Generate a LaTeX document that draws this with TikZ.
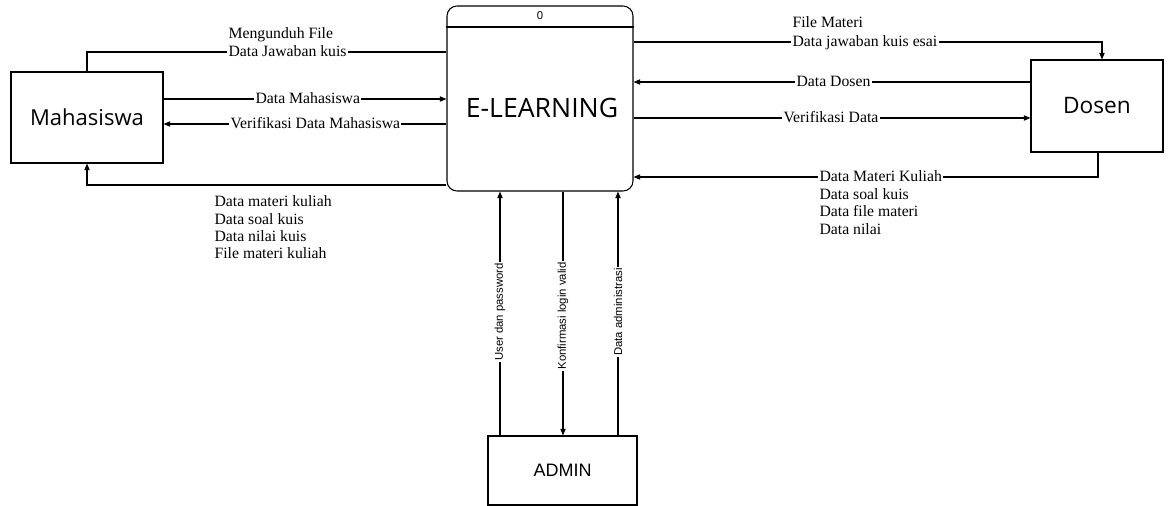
\documentclass[tikz,border=0pt]{standalone}
\usepackage{fontspec}
\setmainfont{Liberation Serif}
\newfontfamily\osans{Open Sans}
\newfontfamily\lsans{Liberation Sans}
\usetikzlibrary{arrows.meta}
\begin{document}
\begin{tikzpicture}[x=0.75pt,y=-0.75pt,
 ent/.style={draw, line width=0.8pt, inner sep=0pt},
 flow/.style={line width=0.8pt, -{Triangle[length=5pt,width=4pt]}},
 plain/.style={line width=0.8pt},
 lbl/.style={font=\fontsize{11.8}{13}\selectfont, inner sep=1pt, anchor=base west},
 onl/.style={lbl, fill=white},
 vlbl/.style={font=\lsans\fontsize{8.5}{10}\selectfont, rotate=90, fill=white, inner sep=1pt}
]
\useasboundingbox (0,0) rectangle (1168,506);

% entities
\node[ent, minimum width=114pt, minimum height=68.25pt, font=\osans\fontsize{16.5}{18}\selectfont] (mhs) at (87,117.5) {Mahasiswa};
\node[ent, rounded corners=7.5pt, minimum width=139.5pt, minimum height=138.75pt] (el) at (540,98.5) {};
\node[font=\osans\fontsize{20}{22}\selectfont, inner sep=0pt] (eltxt) at (542,108) {E-LEARNING};
\node[font=\lsans\fontsize{8.5}{10}\selectfont, inner sep=0pt] (elnum) at (540,16) {0};
\draw[plain] (el.west |- 0,27) -- (el.east |- 0,27);
\node[ent, minimum width=99pt, minimum height=69pt, font=\osans\fontsize{17}{19}\selectfont] (dos) at (1097,106) {Dosen};
\node[ent, minimum width=111.75pt, minimum height=51.75pt, font=\lsans\fontsize{13.5}{15}\selectfont] (adm) at (562.5,470.5) {ADMIN};

% connectors Mahasiswa
\draw[plain] (mhs.north) |- (el.west |- 0,52);
\draw[flow] (mhs.east |- 0,99) -- (el.west |- 0,99);
\draw[flow] (el.west |- 0,124) -- (mhs.east |- 0,124);
\draw[flow] (el.west |- 0,185) -| (mhs.south);

% connectors Dosen
\draw[flow] (el.east |- 0,42) -| (1102,0 |- dos.north);
\draw[flow] (dos.west |- 0,82) -- (el.east |- 0,82);
\draw[flow] (el.east |- 0,118) -- (dos.west |- 0,118);
\draw[flow] (1098,0 |- dos.south) |- (el.east |- 0,177);

% connectors Admin
\draw[flow] (500,0 |- adm.north) -- (500,0 |- el.south);
\draw[flow] (563,0 |- el.south) -- (563,0 |- adm.north);
\draw[flow] (618,0 |- adm.north) -- (618,0 |- el.south);

% labels Mahasiswa side
\node[lbl] (l1a) at (227,38.5) {Mengunduh File};
\node[onl] (l1b) at (227,56.5) {Data Jawaban kuis};
\node[onl] (l2) at (254,103.5) {Data Mahasiswa};
\node[onl] (l3) at (229,128.5) {Verifikasi Data Mahasiswa};
\node[lbl] (l4a) at (213,206.5) {Data materi kuliah};
\node[lbl] (l4b) at (213,224) {Data soal kuis};
\node[lbl] (l4c) at (213,241.5) {Data nilai kuis};
\node[lbl] (l4d) at (213,258.5) {File materi kuliah};

% labels Dosen side
\node[lbl] (r1a) at (791,27.5) {File Materi};
\node[onl] (r1b) at (791,46.5) {Data jawaban kuis esai};
\node[onl] (r2) at (795,86.5) {Data Dosen};
\node[onl] (r3) at (782,122.5) {Verifikasi Data};
\node[onl] (r4a) at (818,181.5) {Data Materi Kuliah};
\node[lbl] (r4b) at (818,199.5) {Data soal kuis};
\node[lbl] (r4c) at (818,216.5) {Data file materi};
\node[lbl] (r4d) at (818,234.5) {Data nilai};

% labels Admin
\node[vlbl] (a1) at (500,312) {User dan password};
\node[vlbl] (a2) at (563,316) {Konfirmasi login valid};
\node[vlbl] (a3) at (618,312) {Data administrasi};
\end{tikzpicture}
\end{document}
